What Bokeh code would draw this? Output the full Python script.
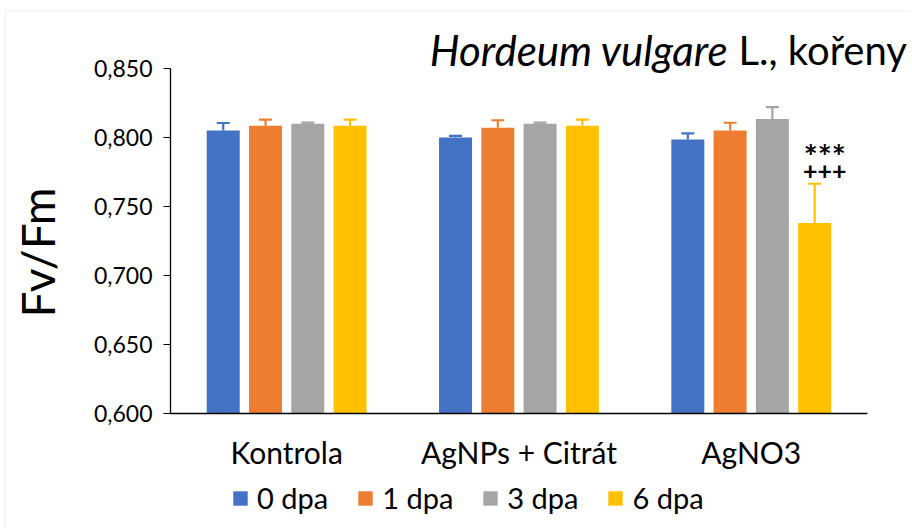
import math
from bokeh.plotting import figure
from bokeh.models import (ColumnDataSource, FixedTicker, Whisker, TeeHead,
                          Label, Legend, LegendItem, Range1d, BoxAnnotation)
from bokeh.core.properties import value
from bokeh.embed import file_html
from bokeh.resources import INLINE

# ---- data ----
categories = ["Kontrola", "AgNPs + Citrát", "AgNO3"]
series_names = ["0 dpa", "1 dpa", "3 dpa", "6 dpa"]
d0 = [0.805, 0.800, 0.7985]
e0 = [0.0055, 0.0012, 0.0045]
d1 = [0.8085, 0.807, 0.805]
e1 = [0.0045, 0.0055, 0.0057]
d3 = [0.810, 0.810, 0.8135]
e3 = [0.0008, 0.0008, 0.0085]
d6 = [0.8085, 0.8085, 0.738]
e6 = [0.0045, 0.0045, 0.0285]
y_ticks = [0.600, 0.650, 0.700, 0.750, 0.800, 0.850]
y_tick_labels = ["0,600", "0,650", "0,700", "0,750", "0,800", "0,850"]
sig_category = "AgNO3"
sig_stars = "***"
sig_plus = "+++"
title_italic = "Hordeum vulgare"
title_plain = "L., kořeny"
y_label = "Fv/Fm"

colors = ["#4472C4", "#ED7D31", "#A5A5A5", "#FFC000"]
offsets = [-0.273, -0.091, 0.091, 0.273]
FONT = "Lato"

W, H = 910, 528
n = len(categories)
centers = [i + 0.5 for i in range(n)]
y0 = y_ticks[0]

p = figure(width=W, height=H,
           x_range=Range1d(-0.73181, 3.18554), y_range=Range1d(0.51667, 0.89928),
           output_backend="svg", toolbar_location=None,
           min_border_left=0, min_border_right=0, min_border_top=0, min_border_bottom=0)
p.outline_line_color = None
p.xgrid.visible = False
p.ygrid.visible = False
p.xaxis.visible = False
p.background_fill_color = "white"
p.border_fill_color = "white"

# light chart-area border (right/bottom edges fall outside the picture)
p.add_layout(BoxAnnotation(left=-0.7124, right=5.0, top=0.89167, bottom=0.3,
                           fill_color=None, fill_alpha=0, line_color="#d9d9d9",
                           line_width=1.5, level="underlay"))

renderers = []
for vals, errs, col, off in zip([d0, d1, d3, d6], [e0, e1, e3, e6], colors, offsets):
    src = ColumnDataSource(dict(x=[c + off for c in centers], val=vals,
                                up=[v + e for v, e in zip(vals, errs)]))
    r = p.vbar(x="x", top="val", bottom=y0, width=0.142,
               source=src, fill_color=col, line_color=None)
    renderers.append(r)
    w = Whisker(base="x", lower="val", upper="up", source=src,
                line_color=col, line_width=2.2,
                upper_head=TeeHead(size=13, line_color=col, line_width=2.2), lower_head=None)
    p.add_layout(w)

# category axis (line + labels)
p.segment(x0=[0], x1=[n], y0=[y0], y1=[y0], line_color="black", line_width=1.3)
p.text(x=centers, y=[y0] * n, text=categories, y_offset=20,
       text_align="center", text_baseline="top",
       text_font=value(FONT), text_font_size="30px", text_color="black")

# significance marks above the 6 dpa AgNO3 bar
idx = categories.index(sig_category)
sx = centers[idx] + offsets[3]
sy = d6[idx] + e6[idx]
p.text(x=[sx], y=[sy], text=[sig_stars], x_offset=10, y_offset=-28,
       text_align="center", text_baseline="middle",
       text_font=value(FONT), text_font_size="33px", text_font_style="bold", text_color="black")
p.text(x=[sx], y=[sy], text=[sig_plus], x_offset=10, y_offset=-13,
       text_align="center", text_baseline="middle",
       text_font=value(FONT), text_font_size="25px", text_font_style="bold", text_color="black")

# y axis, drawn at x = 0 of the category scale
p.yaxis.fixed_location = 0
p.yaxis.bounds = (y_ticks[0], y_ticks[-1])
p.yaxis.ticker = FixedTicker(ticks=y_ticks)
p.yaxis.major_label_overrides = dict(zip(y_ticks, y_tick_labels))
p.yaxis.minor_tick_line_color = None
p.yaxis.major_tick_in = 0
p.yaxis.major_tick_out = 7
p.yaxis.major_tick_line_color = "black"
p.yaxis.axis_line_color = "black"
p.yaxis.axis_line_width = 1.3
p.yaxis.major_label_text_font = FONT
p.yaxis.major_label_text_font_size = "23px"
p.yaxis.major_label_text_color = "black"
p.yaxis.major_label_standoff = 11

# y axis title
p.text(x=[-0.5725], y=[(y_ticks[0] + y_ticks[-1]) / 2 - 0.0083], text=[y_label], angle=math.pi / 2,
       text_align="center", text_baseline="middle",
       text_font=value(FONT), text_font_size="46px", text_color="black")

# title (italic + plain)
p.add_layout(Label(x=2.402, y=0.8636, text=title_italic,
                   text_align="right", text_baseline="alphabetic", text_font=FONT,
                   text_font_size="42px", text_font_style="italic", text_color="black"))
p.add_layout(Label(x=2.445, y=0.8636, text=title_plain,
                   text_align="left", text_baseline="alphabetic", text_font=FONT,
                   text_font_size="40px", text_color="black"))

# legend
legend = Legend(items=[LegendItem(label=s, renderers=[r]) for s, r in zip(series_names, renderers)],
                orientation="horizontal", location=(231, 13), padding=0, margin=0,
                spacing=28, label_standoff=8, glyph_width=18, glyph_height=18,
                label_text_font=FONT, label_text_font_size="29px", label_text_color="black",
                border_line_color=None, background_fill_alpha=0)
p.add_layout(legend, "center")

open("out.html", "w").write(file_html(p, INLINE))
